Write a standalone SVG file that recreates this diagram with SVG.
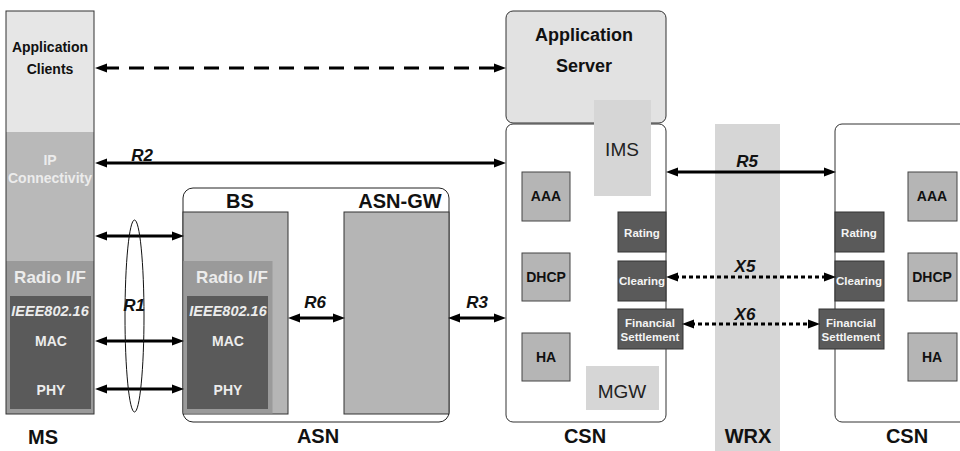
<svg xmlns="http://www.w3.org/2000/svg" width="960" height="451" viewBox="0 0 960 451">
  <defs>
    <style>
      text { font-family: "Liberation Sans", Arial, sans-serif; font-weight: bold; text-anchor: middle; }
      .big { font-size: 20px; fill: #111; }
      .lbl { font-size: 17px; font-style: italic; fill: #111; }
      .reg { font-weight: normal; font-size: 19px; fill: #222; }
      .fn { font-size: 14px; fill: #111; }
      .sm { font-size: 11.5px; fill: #f4f4f4; }
      .light { fill: #ececec; }
      .fnbox { fill: #b5b5b5; stroke: #444; stroke-width: 1; }
      .dark { fill: #5a5a5a; stroke: #333; stroke-width: 1; }
      .pale { fill: #d6d6d6; }
      .link { stroke: #000; stroke-width: 3; fill: none; marker-start: url(#ah); marker-end: url(#ah); }
      .dash { stroke-dasharray: 15 10; }
      .dot { stroke-dasharray: 4 3; }
    </style>
    <marker id="ah" viewBox="0 0 12 10" refX="3" refY="5" markerWidth="12" markerHeight="10" markerUnits="userSpaceOnUse" orient="auto-start-reverse">
      <path d="M0,0.5 L12,5 L0,9.5 z" fill="#000"/>
    </marker>
  </defs>

  <!-- WRX roaming exchange band -->
  <g id="wrx">
    <rect x="715" y="124" width="65" height="327" class="pale"/>
    <text x="748" y="443" class="big">WRX</text>
  </g>

  <!-- Mobile station protocol stack -->
  <g id="ms">
    <rect x="6" y="11" width="88" height="121" fill="#e6e6e6"/>
    <rect x="6" y="132" width="88" height="129" fill="#b9b9b9"/>
    <rect x="6" y="261" width="88" height="153" fill="#9a9a9a"/>
    <rect x="10" y="296" width="81" height="113" fill="#5a5a5a"/>
    <rect x="6" y="11" width="88" height="403" fill="none" stroke="#333" stroke-width="1"/>
    <text x="50" y="52" class="fn">Application</text>
    <text x="50" y="74" class="fn">Clients</text>
    <text x="50" y="165" class="fn light">IP</text>
    <text x="50" y="183" class="fn light">Connectivity</text>
    <text x="50" y="283" class="light" font-size="17">Radio I/F</text>
    <text x="50" y="316" class="light" font-size="14.5" font-style="italic">IEEE802.16</text>
    <text x="51" y="346" class="fn light">MAC</text>
    <text x="51" y="395" class="fn light">PHY</text>
    <text x="43" y="444" class="big">MS</text>
  </g>

  <!-- Access service network -->
  <g id="asn">
    <rect x="183" y="188" width="266" height="234" rx="10" fill="#fff" stroke="#222" stroke-width="1"/>
    <text x="318" y="443" class="big">ASN</text>
  </g>

  <g id="bs">
    <rect x="183" y="212" width="105" height="202" fill="#b5b5b5" stroke="#333" stroke-width="1"/>
    <rect x="183.5" y="261" width="89" height="152.5" fill="#9a9a9a"/>
    <rect x="187" y="296" width="81" height="113" fill="#5a5a5a"/>
    <text x="240" y="208" class="big">BS</text>
    <text x="232" y="283" class="light" font-size="17">Radio I/F</text>
    <text x="228" y="316" class="light" font-size="14.5" font-style="italic">IEEE802.16</text>
    <text x="228" y="346" class="fn light">MAC</text>
    <text x="228" y="395" class="fn light">PHY</text>
  </g>

  <g id="asn-gw">
    <rect x="344" y="212" width="105" height="202" fill="#b5b5b5" stroke="#333" stroke-width="1"/>
    <text x="400" y="208" class="big">ASN-GW</text>
  </g>

  <!-- Home connectivity service network -->
  <g id="app-server">
    <rect x="506" y="11" width="160" height="112" rx="7" fill="#e2e2e2" stroke="#333" stroke-width="1"/>
    <text x="584" y="41" font-size="18" fill="#111">Application</text>
    <text x="584" y="72" font-size="18" fill="#111">Server</text>
  </g>

  <g id="csn-home">
    <rect x="506" y="124" width="160" height="298" rx="7" fill="#fff" stroke="#333" stroke-width="1"/>
    <text x="585" y="443" class="big">CSN</text>
  </g>

  <g id="ims">
    <rect x="594" y="100" width="57" height="96" class="pale"/>
    <text x="622" y="156" class="reg">IMS</text>
  </g>
  <g id="aaa-home">
    <rect x="522" y="172" width="48" height="49" class="fnbox"/>
    <text x="546" y="201" class="fn">AAA</text>
  </g>
  <g id="dhcp-home">
    <rect x="522" y="253" width="48" height="48" class="fnbox"/>
    <text x="546" y="282" class="fn">DHCP</text>
  </g>
  <g id="ha-home">
    <rect x="522" y="333" width="48" height="48" class="fnbox"/>
    <text x="546" y="362" class="fn">HA</text>
  </g>
  <g id="mgw">
    <rect x="586" y="366" width="73" height="44" class="pale"/>
    <text x="622" y="398" class="reg">MGW</text>
  </g>
  <g id="rating-home">
    <rect x="618" y="212" width="48" height="40" class="dark"/>
    <text x="642" y="237" class="sm">Rating</text>
  </g>
  <g id="clearing-home">
    <rect x="618" y="261" width="48" height="40" class="dark"/>
    <text x="642" y="285" class="sm">Clearing</text>
  </g>
  <g id="settlement-home">
    <rect x="618" y="309" width="65" height="40" class="dark"/>
    <text x="650" y="327" class="sm">Financial</text>
    <text x="650" y="341" class="sm">Settlement</text>
  </g>

  <!-- Visited connectivity service network -->
  <g id="csn-visited">
    <rect x="835" y="124" width="140" height="298" rx="7" fill="#fff" stroke="#333" stroke-width="1"/>
    <text x="907" y="443" class="big">CSN</text>
  </g>
  <g id="aaa-visited">
    <rect x="908" y="172" width="49" height="49" class="fnbox"/>
    <text x="932" y="201" class="fn">AAA</text>
  </g>
  <g id="dhcp-visited">
    <rect x="908" y="253" width="49" height="48" class="fnbox"/>
    <text x="932" y="282" class="fn">DHCP</text>
  </g>
  <g id="ha-visited">
    <rect x="908" y="333" width="49" height="48" class="fnbox"/>
    <text x="932" y="362" class="fn">HA</text>
  </g>
  <g id="rating-visited">
    <rect x="835" y="212" width="49" height="40" class="dark"/>
    <text x="859" y="237" class="sm">Rating</text>
  </g>
  <g id="clearing-visited">
    <rect x="835" y="261" width="49" height="40" class="dark"/>
    <text x="859" y="285" class="sm">Clearing</text>
  </g>
  <g id="settlement-visited">
    <rect x="819" y="309" width="65" height="40" class="dark"/>
    <text x="851" y="327" class="sm">Financial</text>
    <text x="851" y="341" class="sm">Settlement</text>
  </g>

  <!-- Reference points and interfaces -->
  <g id="connectors">
    <line x1="104" y1="68" x2="497" y2="68" class="link dash"/>
    <line x1="104" y1="163" x2="497" y2="163" class="link"/>
    <line x1="104" y1="236" x2="175" y2="236" class="link"/>
    <line x1="104" y1="341" x2="175" y2="341" class="link"/>
    <line x1="104" y1="389" x2="175" y2="389" class="link"/>
    <ellipse cx="134.5" cy="316" rx="9.5" ry="96" fill="none" stroke="#111" stroke-width="1"/>
    <line x1="297" y1="318" x2="336" y2="318" class="link"/>
    <line x1="457" y1="318" x2="497" y2="318" class="link"/>
    <line x1="675" y1="172" x2="827" y2="172" class="link"/>
    <line x1="675" y1="277" x2="827" y2="277" class="link dot"/>
    <line x1="691" y1="324" x2="811" y2="324" class="link dot"/>
    <text x="142" y="161" class="lbl">R2</text>
    <text x="134" y="311" class="lbl">R1</text>
    <text x="315" y="308" class="lbl">R6</text>
    <text x="477" y="308" class="lbl">R3</text>
    <text x="747" y="167" class="lbl">R5</text>
    <text x="745" y="272" class="lbl">X5</text>
    <text x="745" y="320" class="lbl">X6</text>
  </g>
</svg>
